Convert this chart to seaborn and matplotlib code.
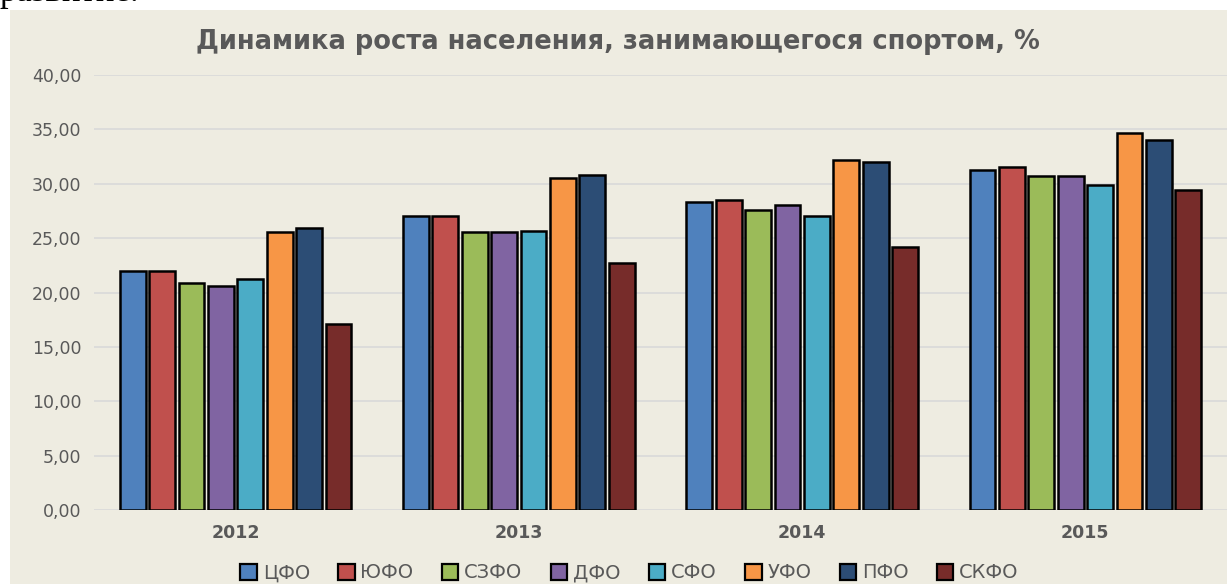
import matplotlib
matplotlib.use("Agg")
import matplotlib.pyplot as plt
from matplotlib.patches import Patch, Rectangle
from matplotlib.ticker import FuncFormatter, MultipleLocator
import pandas as pd
import seaborn as sns

# Data
years = ["2012", "2013", "2014", "2015"]
regions = ["ЦФО", "ЮФО", "СЗФО", "ДФО", "СФО", "УФО", "ПФО", "СКФО"]
cfo = [22.0, 27.0, 28.3, 31.3]
yufo = [22.0, 27.0, 28.5, 31.5]
szfo = [20.9, 25.6, 27.6, 30.7]
dfo = [20.6, 25.6, 28.0, 30.7]
sfo = [21.2, 25.7, 27.0, 29.9]
ufo = [25.6, 30.5, 32.2, 34.7]
pfo = [25.9, 30.8, 32.0, 34.0]
skfo = [17.1, 22.7, 24.2, 29.4]
colors = ["#4F81BD", "#C0504D", "#9BBB59", "#8064A2",
          "#4BACC6", "#F79646", "#2C4D75", "#772C2A"]

series = [cfo, yufo, szfo, dfo, sfo, ufo, pfo, skfo]
rows = []
for reg, vals in zip(regions, series):
    for yr, v in zip(years, vals):
        rows.append({"year": yr, "region": reg, "value": v})
df = pd.DataFrame(rows)

sns.set_theme(style="white")
plt.rcParams["font.family"] = ["DejaVu Sans"]

bg = "#EEECE1"
grey = "#595959"

fig = plt.figure(figsize=(12.27, 5.84), dpi=100)
fig.patch.set_facecolor("white")
fig.patches.append(Rectangle((10 / 1227, 0), 1, 1 - 10 / 584,
                             transform=fig.transFigure, facecolor=bg,
                             edgecolor="none", zorder=-10))

# leftover text of the page above the chart (cut off in the source image)
fig.text(0.0, 1 - 1 / 584, "развитие.", family=["Liberation Serif"],
         fontsize=25, color="black", va="baseline", ha="left", zorder=-5)

ax = fig.add_axes([94 / 1227, 74 / 584, 1 - 94 / 1227, (510 - 75) / 584])
ax.set_facecolor(bg)

sns.barplot(data=df, x="year", y="value", hue="region", order=years,
            hue_order=regions, palette=colors, saturation=1, edgecolor="black",
            linewidth=1.8, width=0.83, gap=0.12, ax=ax, legend=False)

ax.set_xlim(-0.5, 3.5)
ax.set_ylim(0, 40)
ax.yaxis.set_major_locator(MultipleLocator(5))
ax.yaxis.set_major_formatter(FuncFormatter(lambda v, p: f"{v:.2f}".replace(".", ",")))
ax.grid(axis="y", color="#D9D9D9", linewidth=1.2)
ax.set_axisbelow(True)
for s in ax.spines.values():
    s.set_visible(False)
ax.tick_params(axis="both", length=0, colors=grey, labelsize=12.5)
ax.tick_params(axis="y", pad=9)
ax.tick_params(axis="x", pad=10)
for t in ax.get_xticklabels():
    t.set_fontweight("bold")
ax.set_xlabel("")
ax.set_ylabel("")

fig.text(0.504, 1 - 42 / 584, "Динамика роста населения, занимающегося спортом, %",
         ha="center", va="center", fontsize=18.5, fontweight="bold", color=grey)

handles = [Patch(facecolor=c, edgecolor="black", linewidth=1.6) for c in colors]
fig.legend(handles, regions, loc="center", bbox_to_anchor=(0.513, 1 - 573 / 584),
           ncol=8, frameon=False, fontsize=14, handlelength=0.85, handleheight=0.85,
           handletextpad=0.3, columnspacing=1.45, labelcolor=grey)

fig.savefig("out.png", dpi=100, facecolor=fig.get_facecolor())
